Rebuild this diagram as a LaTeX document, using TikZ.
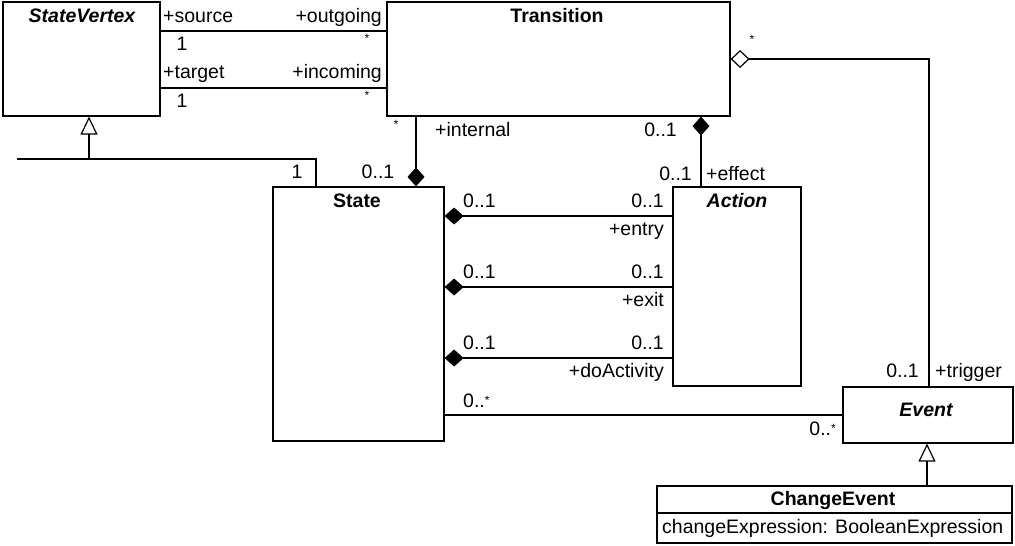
\documentclass[tikz,border=0pt]{standalone}
\usepackage{fontspec}
\setmainfont{Liberation Sans}
\usetikzlibrary{arrows.meta}
\newcommand\mstar{\raisebox{3pt}{\fontsize{12}{12}\selectfont *}}
\begin{document}
\begin{tikzpicture}[x=1pt,y=-1pt,
  box/.style={draw, line width=1.2pt, fill=white, inner sep=0pt},
  conn/.style={line width=1.2pt},
  lab/.style={font=\fontsize{19.5}{19.5}\selectfont, inner sep=0pt},
  ttl/.style={font=\fontsize{19.5}{19.5}\selectfont\bfseries, inner sep=0pt, anchor=base},
  smstar/.style={font=\fontsize{12}{12}\selectfont, inner sep=0pt},
  comp/.style={conn, -{Diamond[length=19pt,width=17pt]}},
  aggr/.style={conn, -{Diamond[open,length=19pt,width=18pt]}},
  gen/.style={conn, -{Triangle[open,length=18pt,width=17pt]}},
]
\useasboundingbox[fill=white] (0,0) rectangle (1015,546);

% classes
\node[box, minimum width=157pt, minimum height=114pt] (sv) at (81.5,59) {};
\node[box, minimum width=343pt, minimum height=114pt] (tr) at (558.5,59) {};
\node[box, minimum width=171pt, minimum height=254pt] (st) at (358.5,314) {};
\node[box, minimum width=128pt, minimum height=199pt] (ac) at (737,286.5) {};
\node[box, minimum width=170pt, minimum height=56pt] (ev) at (928,415) {};
\node[box, minimum width=355pt, minimum height=57pt] (ce) at (834.5,514.5) {};
\draw[line width=1.2pt] (ce.west |- 0,513) -- (ce.east |- 0,513);

% titles
\node[ttl] (tsv) at (82,22) {\itshape StateVertex};
\node[ttl] (ttr) at (557,22) {Transition};
\node[ttl] (tst) at (357,207) {State};
\node[ttl] (tac) at (737,207) {\itshape Action};
\node[ttl] (tev) at (926,416) {\itshape Event};
\node[ttl] (tce) at (833,505) {ChangeEvent};
\node[lab, anchor=base west] (cea) at (662,533) {changeExpression: BooleanExpression};

% source / target associations
\draw[conn] (sv.east |- 0,31) -- (tr.west |- 0,31);
\draw[conn] (sv.east |- 0,88) -- (tr.west |- 0,88);
\node[lab, anchor=base west] (a1) at (163,23) {+source};
\node[lab, anchor=base east] (a2) at (382,23) {+outgoing};
\node[lab, anchor=base] (a3) at (182,50) {1};
\node[smstar] (a4) at (367,38) {*};
\node[lab, anchor=base west] (a5) at (163,78) {+target};
\node[lab, anchor=base east] (a6) at (382,78) {+incoming};
\node[lab, anchor=base] (a7) at (182,107) {1};
\node[smstar] (a8) at (367,95) {*};

% generalization State -> StateVertex
\coordinate (gl) at (17,159);
\coordinate (gj) at (89,159);
\draw[conn] (st.north -| 316,0) |- (gl);
\draw[gen] (gj) -- (sv.south -| gj);
\node[lab, anchor=base] (b1) at (297,178) {1};
\node[lab, anchor=base] (b2) at (378,178) {0..1};

% internal
\draw[comp] (tr.south -| 416,0) -- (st.north -| 416,0);
\node[smstar] (c1) at (396,124) {*};
\node[lab, anchor=base west] (c2) at (435,136) {+internal};

% effect
\draw[comp] (ac.north -| 701,0) -- (tr.south -| 701,0);
\node[lab, anchor=base east] (d1) at (677,136) {0..1};
\node[lab, anchor=base east] (d2) at (692,180) {0..1};
\node[lab, anchor=base west] (d3) at (706,180) {+effect};

% entry / exit / doActivity
\draw[comp] (ac.west |- 0,216) -- (st.east |- 0,216);
\draw[comp] (ac.west |- 0,287) -- (st.east |- 0,287);
\draw[comp] (ac.west |- 0,358) -- (st.east |- 0,358);
\node[lab, anchor=base west] (e1) at (463,207) {0..1};
\node[lab, anchor=base east] (e2) at (664,207) {0..1};
\node[lab, anchor=base east] (e3) at (664,235) {+entry};
\node[lab, anchor=base west] (e4) at (463,278) {0..1};
\node[lab, anchor=base east] (e5) at (664,278) {0..1};
\node[lab, anchor=base east] (e6) at (664,306) {+exit};
\node[lab, anchor=base west] (e7) at (463,349) {0..1};
\node[lab, anchor=base east] (e8) at (664,349) {0..1};
\node[lab, anchor=base east] (e9) at (664,377) {+doActivity};

% State -- Event
\draw[conn] (st.east |- 0,415) -- (ev.west);
\node[lab, anchor=base west] (f1) at (463,407) {0..\mstar};
\node[lab, anchor=base east] (f2) at (836,435) {0..\mstar};

% trigger aggregation
\draw[aggr] (ev.north -| 929,0) |- (tr.east);
\node[smstar] (g1) at (752,39) {*};
\node[lab, anchor=base east] (g2) at (919,377) {0..1};
\node[lab, anchor=base west] (g3) at (935,377) {+trigger};

% ChangeEvent -> Event
\draw[gen] (ce.north -| 927,0) -- (ev.south -| 927,0);
\end{tikzpicture}
\end{document}
